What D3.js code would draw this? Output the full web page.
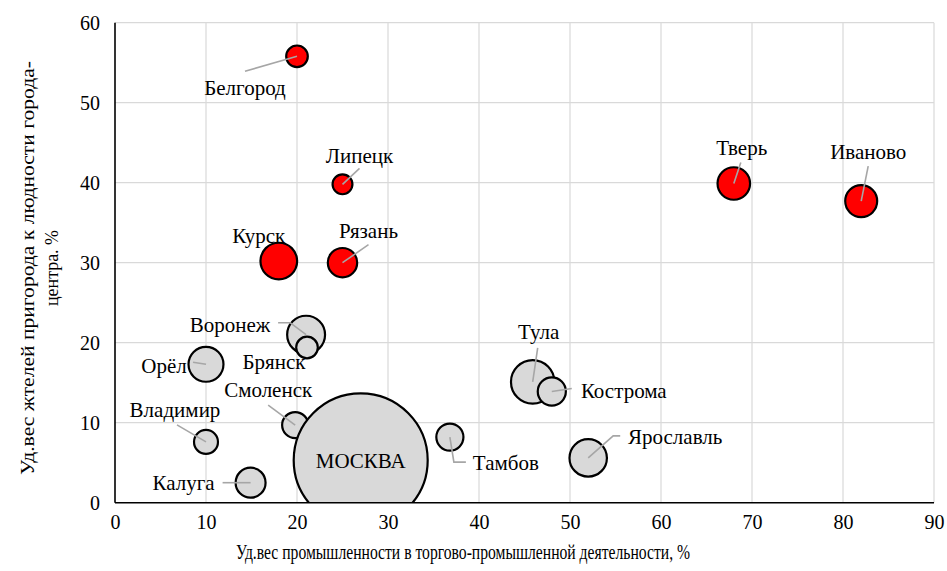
<!DOCTYPE html>
<html>
<head>
<meta charset="utf-8">
<script src="https://cdn.jsdelivr.net/npm/d3@7"></script>
<style>
  html, body { margin: 0; padding: 0; background: #fff; }
  svg { display: block; }
</style>
</head>
<body>
<svg id="chart" width="947" height="571"></svg>
<script>
// ---- data ----
const cities   = ["Белгород","Липецк","Курск","Рязань","Тверь","Иваново","Воронеж","Брянск","Орёл","Смоленск","Владимир","Калуга","МОСКВА","Тамбов","Тула","Кострома","Ярославль"];
const industry = [20, 25, 18, 25, 68, 82, 21, 21.1, 10, 19.8, 10, 14.9, 27, 36.8, 45.9, 48, 52];          // x, %
const suburb   = [55.8, 39.8, 30.2, 30, 39.9, 37.7, 21, 19.4, 17.3, 9.7, 7.6, 2.5, 5.3, 8.2, 15.1, 13.9, 5.6]; // y, %
const bubble   = [2.6, 2.2, 7.5, 4.8, 5.9, 5.7, 8.0, 2.6, 6.8, 3.8, 3.2, 5.0, 100, 4.1, 10.5, 4.4, 7.8];     // size
const highlight= [1, 1, 1, 1, 1, 1, 0, 0, 0, 0, 0, 0, 0, 0, 0, 0, 0];
const xTicks = [0, 10, 20, 30, 40, 50, 60, 70, 80, 90];
const yTicks = [0, 10, 20, 30, 40, 50, 60];
const xTitle = "Уд.вес промышленности в торгово-промышленной деятельности, %";
const yTitle = ["Уд.вес жтелей пригорода к людности города-", "центра. %"];

// ---- label layout (pixel offsets from bubble centre) ----
const labelLayout = {
  "Белгород":  {t: [-52, 31], l: [[-52, 15]]},
  "Липецк":    {t: [17, -29],  l: [[17, -16]]},
  "Курск":     {t: [-20, -25], l: []},
  "Рязань":    {t: [26, -32],  l: [[26, -18]]},
  "Тверь":     {t: [8, -36],   l: [[7, -21]]},
  "Иваново":   {t: [7, -49],   l: [[7, -35]]},
  "Воронеж":   {t: [-76, -10], l: [[-28, -12], [-16, -12]]},
  "Брянск":    {t: [-33, 14],  l: []},
  "Орёл":      {t: [-42, 1],   l: [[-13, -2]]},
  "Смоленск":  {t: [-27, -35], l: [[-27, -20]]},
  "Владимир":  {t: [-31, -32], l: [[-29, -17]]},
  "Калуга":    {t: [-67, 0],   l: [[-28, 0]]},
  "МОСКВА":    {t: [0, 0],     l: []},
  "Тамбов":    {t: [56, 26],   l: [[16, 25], [4, 25]]},
  "Тула":      {t: [6, -50],   l: [[5, -34]]},
  "Кострома":  {t: [72, -1],   l: [[20, -3]]},
  "Ярославль": {t: [87, -21],  l: [[32, -22], [25, -22]]}
};

// ---- chart ----
const FONT = '"Liberation Serif"';
const svg = d3.select("#chart");
const pL = 115, pR = 934, pT = 22.7, pB = 502.7;
const x = d3.scaleLinear().domain([0, 90]).range([pL, pR]);
const y = d3.scaleLinear().domain([0, 60]).range([pB, pT]);
const r = d3.scaleSqrt().domain([0, 100]).range([0, 67]);

const data = cities.map((c, i) => ({name: c, x: industry[i], y: suburb[i], s: bubble[i], hl: highlight[i]}));

// gridlines
svg.append("g").selectAll("line").data(xTicks.slice(1)).join("line")
  .attr("x1", d => x(d)).attr("x2", d => x(d)).attr("y1", pT).attr("y2", pB)
  .attr("stroke", "#d9d9d9").attr("stroke-width", 1.2);
svg.append("g").selectAll("line").data(yTicks.slice(1)).join("line")
  .attr("x1", pL).attr("x2", pR).attr("y1", d => y(d)).attr("y2", d => y(d))
  .attr("stroke", "#d9d9d9").attr("stroke-width", 1.2);

// clip
svg.append("clipPath").attr("id", "plotclip").append("rect")
  .attr("x", pL).attr("y", pT - 20).attr("width", pR - pL + 20).attr("height", pB - pT + 20);

const plot = svg.append("g").attr("clip-path", "url(#plotclip)");
plot.selectAll("circle").data(data).join("circle")
  .attr("cx", d => x(d.x)).attr("cy", d => y(d.y)).attr("r", d => r(d.s))
  .attr("fill", d => d.hl ? "#ff0000" : "#d9d9d9")
  .attr("stroke", "#000").attr("stroke-width", 2.2);

// axes lines
svg.append("line").attr("x1", pL).attr("x2", pL).attr("y1", pT).attr("y2", pB)
  .attr("stroke", "#000").attr("stroke-width", 1.6);
svg.append("line").attr("x1", pL).attr("x2", pR).attr("y1", pB).attr("y2", pB)
  .attr("stroke", "#000").attr("stroke-width", 1.6);

// tick labels via d3 axes
const xAxis = d3.axisBottom(x).tickValues(xTicks).tickSize(0).tickPadding(12).tickFormat(d3.format("d"));
const gx = svg.append("g").attr("transform", `translate(0,${pB})`).call(xAxis);
gx.attr("font-family", FONT).attr("font-size", 20);
gx.select(".domain").remove();
gx.selectAll("text").attr("fill", "#000");

const yAxis = d3.axisLeft(y).tickValues(yTicks).tickSize(0).tickPadding(15).tickFormat(d3.format("d"));
const gy = svg.append("g").attr("transform", `translate(${pL},0)`).call(yAxis);
gy.attr("font-family", FONT).attr("font-size", 20);
gy.select(".domain").remove();
gy.selectAll("text").attr("fill", "#000");

// leader lines
const lines = svg.append("g");
data.forEach(d => {
  const L = labelLayout[d.name];
  if (!L || !L.l.length) return;
  const cx = x(d.x), cy = y(d.y);
  const pts = L.l.map(p => [cx + p[0], cy + p[1]]).concat([[cx, cy]]);
  lines.append("path").attr("d", d3.line()(pts))
    .attr("fill", "none").attr("stroke", "#a6a6a6").attr("stroke-width", 1.6);
});

// labels
svg.append("g").attr("font-family", FONT).selectAll("text").data(data).join("text")
  .attr("x", d => x(d.x) + labelLayout[d.name].t[0])
  .attr("y", d => y(d.y) + labelLayout[d.name].t[1])
  .attr("dy", "0.35em").attr("text-anchor", "middle")
  .attr("font-size", 21)
  .text(d => d.name);

// axis titles
svg.append("text").attr("font-family", FONT).attr("x", 463).attr("y", 552).attr("dy", "0.35em")
  .attr("text-anchor", "middle").attr("font-size", 20)
  .attr("textLength", 454).attr("lengthAdjust", "spacingAndGlyphs").text(xTitle);

const yLens = [414, 76];
const yt = svg.append("g").attr("transform", `translate(36,268) rotate(-90)`);
yt.selectAll("text").data(yTitle).join("text")
  .attr("font-family", FONT).attr("font-size", 19).attr("text-anchor", "middle")
  .attr("x", 0).attr("y", (d, i) => i * 24).attr("dy", "-0.1em")
  .attr("textLength", (d, i) => yLens[i]).attr("lengthAdjust", "spacingAndGlyphs")
  .text(d => d);
</script>
</body>
</html>
